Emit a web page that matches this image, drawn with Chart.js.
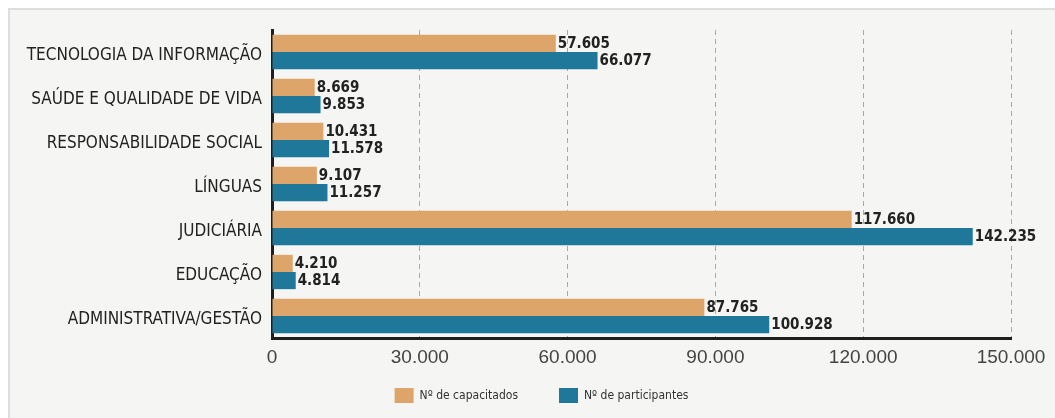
<!DOCTYPE html>
<html>
<head>
<meta charset="utf-8">
<script src="https://cdn.jsdelivr.net/npm/chart.js@4"></script>
<style>
  html, body { margin: 0; padding: 0; background: #fff; }
  #panel { position: absolute; left: 8px; top: 8px; width: 1045px; height: 410px;
           background: #f5f5f3; border-left: 2px solid #dedede; border-top: 2px solid #dedede; }
  #chart { position: absolute; left: 0; top: 0; }
</style>
</head>
<body>
<div id="panel"></div>
<canvas id="chart" width="1055" height="418"></canvas>
<script>
const categories = [
  'TECNOLOGIA DA INFORMAÇÃO',
  'SAÚDE E QUALIDADE DE VIDA',
  'RESPONSABILIDADE SOCIAL',
  'LÍNGUAS',
  'JUDICIÁRIA',
  'EDUCAÇÃO',
  'ADMINISTRATIVA/GESTÃO'
];
const capacitados = [57605, 8669, 10431, 9107, 117660, 4210, 87765];
const participantes = [66077, 9853, 11578, 11257, 142235, 4814, 100928];
const xTicks = [0, 30000, 60000, 90000, 120000, 150000];

const narrow = '"Liberation Sans Narrow", "DejaVu Sans Condensed", "Liberation Sans", sans-serif';

// thousands with dots, like 57.605
function fmt(n) {
  return String(n).replace(/\B(?=(\d{3})+(?!\d))/g, '.');
}

// blank legend entry, used only for spacing
function spacer() {
  return { text: '', fillStyle: 'rgba(0,0,0,0)', strokeStyle: 'rgba(0,0,0,0)',
           lineWidth: 0, hidden: false, datasetIndex: -1 };
}

// value labels at the end of each bar
const barLabels = {
  id: 'barLabels',
  afterDatasetsDraw(chart) {
    const ctx = chart.ctx;
    ctx.save();
    ctx.font = 'bold 15px ' + narrow;
    ctx.fillStyle = '#222';
    ctx.textBaseline = 'middle';
    ctx.textAlign = 'left';
    chart.data.datasets.forEach((ds, i) => {
      chart.getDatasetMeta(i).data.forEach((bar, j) => {
        ctx.fillText(fmt(ds.data[j]), bar.x + 2, bar.y + 1);
      });
    });
    ctx.restore();
  }
};

new Chart(document.getElementById('chart'), {
  type: 'bar',
  data: {
    labels: categories,
    datasets: [
      { label: 'Nº de capacitados', data: capacitados, backgroundColor: '#dda56a',
        categoryPercentage: 0.78, barPercentage: 1.0 },
      { label: 'Nº de participantes', data: participantes, backgroundColor: '#1f7899',
        categoryPercentage: 0.78, barPercentage: 1.0 }
    ]
  },
  options: {
    indexAxis: 'y',
    responsive: false,
    animation: false,
    layout: { padding: { top: 30, right: 44, bottom: 5, left: 6 } },
    scales: {
      x: {
        min: 0,
        max: 150000,
        afterBuildTicks: scale => { scale.ticks = xTicks.map(v => ({ value: v })); },
        afterFit: scale => { scale.height = 42; },
        ticks: {
          padding: 8,
          color: '#444',
          font: { family: '"Liberation Sans", sans-serif', size: 19 },
          callback: v => fmt(v)
        },
        grid: {
          drawTicks: false,
          color: ctx => ctx.tick && ctx.tick.value === 0 ? 'rgba(0,0,0,0)' : '#a8a8a8',
          lineWidth: 1
        },
        border: { display: true, color: '#1e1e1e', width: 3, dash: [5, 4] }
      },
      y: {
        afterFit: scale => { scale.width = 266; },
        ticks: {
          padding: 10,
          labelOffset: 4,
          color: '#222',
          font: { family: narrow, size: 17 }
        },
        grid: { display: false, drawTicks: false },
        border: { display: true, color: '#1e1e1e', width: 3 }
      }
    },
    plugins: {
      legend: {
        position: 'bottom',
        labels: {
          boxWidth: 19,
          boxHeight: 15,
          padding: 8,
          color: '#333',
          font: { family: narrow, size: 12 },
          // blank items push the legend right and widen the gap between the entries
          generateLabels: chart => {
            const items = Chart.defaults.plugins.legend.labels.generateLabels(chart);
            return [spacer(), spacer(), items[0], spacer(), items[1]];
          }
        }
      },
      tooltip: { enabled: false }
    }
  },
  plugins: [barLabels]
});
</script>
</body>
</html>
